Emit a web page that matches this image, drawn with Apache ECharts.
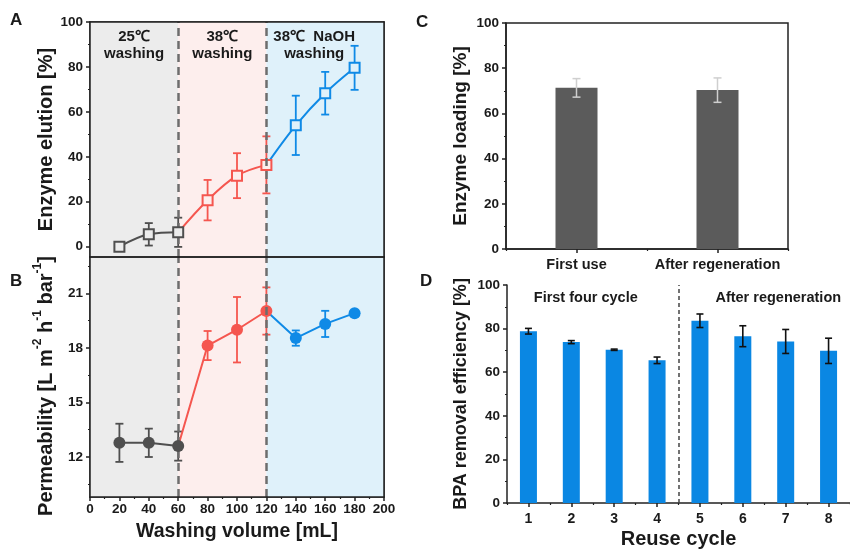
<!DOCTYPE html>
<html><head><meta charset="utf-8">
<script src="https://cdn.jsdelivr.net/npm/echarts/dist/echarts.min.js"></script>
<style>html,body{margin:0;padding:0;background:#fff}#c{width:850px;height:550px}</style>
</head><body><div id="c"></div>
<script>
// ---------- data ----------
const washVolume   = [20, 40, 60, 80, 100, 120, 140, 160, 180];
const elution      = [0, 5.5, 6.4, 20.7, 31.6, 36.4, 54, 68.3, 79.6];
const elutionErr   = [0, 5, 6.5, 9, 10, 12.7, 13.2, 9.5, 9.8];
const permeability = [12.78, 12.78, 12.6, 18.13, 19.0, 20.03, 18.54, 19.32, 19.91];
const permErr      = [1.05, 0.78, 0.8, 0.8, 1.8, 1.3, 0.42, 0.72, 0];
const phaseBounds  = [0, 60, 120, 200];
const phasePoints  = [[0, 3], [3, 6], [6, 9]];   // index ranges owned by each phase
const phaseLabels  = ['25℃\nwashing', '38℃\nwashing', '38℃  NaOH\nwashing'];
const washTicks    = [0, 20, 40, 60, 80, 100, 120, 140, 160, 180, 200];
const elutionTicks = [0, 20, 40, 60, 80, 100];
const elutionMinor = [10, 30, 50, 70, 90];
const permTicks    = [12, 15, 18, 21];
const permMinor    = [10.5, 13.5, 16.5, 19.5, 22.5];

const loadCats     = ['First use', 'After regeneration'];
const loading      = [71.3, 70.3];
const loadingErr   = [4.1, 5.4];

const cycles       = ['1', '2', '3', '4', '5', '6', '7', '8'];
const bpa          = [78.8, 73.8, 70.3, 65.45, 83.6, 76.5, 74.1, 69.8];
const bpaErr       = [1.3, 0.7, 0.3, 1.5, 3.1, 4.8, 5.5, 5.8];
const cycleGroups  = ['First four cycle', 'After regeneration'];
const cycleGroupN  = [4, 4];

// ---------- styles ----------
const FONT = "'Liberation Sans', Arial, Helvetica, sans-serif";
const INK = '#1a1a1a';
const phaseColors = ['#4f4f4f', '#f5564f', '#0f8ae6'];
const phaseBg = ['#ececec', '#fdeeed', '#dff1fa'];
const lbl = (size, extra) => Object.assign({color: INK, fontFamily: FONT, fontWeight: 'bold', fontSize: size}, extra || {});

function errRender(color, cap, width, gapR) {
  return function (params, api) {
    const x = api.value(0), y = api.value(1), e = api.value(2);
    if (!e) return null;
    const c = api.coord([x, y]);
    const t = api.coord([x, y + e]);
    const b = api.coord([x, y - e]);
    const st = {stroke: color, lineWidth: width};
    const ch = [
      {type: 'line', shape: {x1: t[0] - cap / 2, y1: t[1], x2: t[0] + cap / 2, y2: t[1]}, style: st},
      {type: 'line', shape: {x1: b[0] - cap / 2, y1: b[1], x2: b[0] + cap / 2, y2: b[1]}, style: st}
    ];
    if (gapR) {
      if (t[1] < c[1] - gapR) ch.push({type: 'line', shape: {x1: t[0], y1: t[1], x2: t[0], y2: c[1] - gapR}, style: st});
      if (b[1] > c[1] + gapR) ch.push({type: 'line', shape: {x1: b[0], y1: c[1] + gapR, x2: b[0], y2: b[1]}, style: st});
    } else {
      ch.push({type: 'line', shape: {x1: t[0], y1: t[1], x2: b[0], y2: b[1]}, style: st});
    }
    return {type: 'group', children: ch};
  };
}

const series = [];

// background phases + dashed separators (panel A and B)
function phaseAreas(withLabels) {
  return phaseLabels.map((t, i) => [
    {xAxis: phaseBounds[i], itemStyle: {color: phaseBg[i]},
     label: withLabels ? lbl(15, {show: true, formatter: t, position: 'insideTop', distance: 6, lineHeight: 17,
       padding: i === 2 ? [0, 22, 0, 0] : 0}) : {show: false}},
    {xAxis: phaseBounds[i + 1]}
  ]);
}
const sepLines = phaseBounds.slice(1, -1).map(v => ({xAxis: v}));
const sepStyle = {symbol: 'none', silent: true, label: {show: false},
  lineStyle: {color: '#6d6d6d', width: 2.5, type: [8, 5]}, data: sepLines};

phasePoints.forEach((rng, p) => {
  const start = p === 0 ? rng[0] : rng[0] - 1;
  const idx = [];
  for (let i = start; i < rng[1]; i++) idx.push(i);
  const own = i => i >= rng[0];
  // panel A line
  series.push({
    type: 'line', xAxisIndex: 0, yAxisIndex: 0, smooth: 0.35, z: 5 - p,
    symbol: 'rect', symbolSize: 10,
    lineStyle: {color: phaseColors[p], width: 2},
    itemStyle: {color: phaseBg[p], borderColor: phaseColors[p], borderWidth: 2},
    data: idx.map(i => own(i) ? [washVolume[i], elution[i]] : {value: [washVolume[i], elution[i]], symbol: 'none'}),
    markArea: p === 0 ? {silent: true, data: phaseAreas(true)} : undefined,
    markLine: p === 0 ? sepStyle : undefined
  });
  series.push({
    type: 'custom', xAxisIndex: 0, yAxisIndex: 0, z: 3,
    renderItem: errRender(phaseColors[p], 8, 1.8, 5),
    data: idx.filter(own).map(i => [washVolume[i], elution[i], elutionErr[i]])
  });
  // panel B line
  series.push({
    type: 'line', xAxisIndex: 1, yAxisIndex: 2, z: 5 - p,
    symbol: 'circle', symbolSize: 12,
    lineStyle: {color: phaseColors[p], width: 2},
    itemStyle: {color: phaseColors[p]},
    data: idx.map(i => own(i) ? [washVolume[i], permeability[i]] : {value: [washVolume[i], permeability[i]], symbol: 'none'}),
    markArea: p === 0 ? {silent: true, data: phaseAreas(false)} : undefined,
    markLine: p === 0 ? sepStyle : undefined
  });
  series.push({
    type: 'custom', xAxisIndex: 1, yAxisIndex: 2, z: 3,
    renderItem: errRender(phaseColors[p], 8, 1.8, 0),
    data: idx.filter(own).map(i => [washVolume[i], permeability[i], permErr[i]])
  });
});

// panel C
series.push({type: 'bar', xAxisIndex: 2, yAxisIndex: 4, barWidth: 42, itemStyle: {color: '#5b5b5b'}, data: loading});
series.push({type: 'custom', xAxisIndex: 2, yAxisIndex: 4, z: 5,
  renderItem: errRender('#cfcfcf', 8, 1.5, 0),
  data: loading.map((v, i) => [i, v, loadingErr[i]])});

// panel D
series.push({type: 'bar', xAxisIndex: 4, yAxisIndex: 5, barWidth: 17, itemStyle: {color: '#0a87e3'}, data: bpa});
series.push({type: 'custom', xAxisIndex: 4, yAxisIndex: 5, z: 5,
  renderItem: errRender('#111', 7, 1.6, 0),
  data: bpa.map((v, i) => [i, v, bpaErr[i]])});
let acc = 0.5;
const groupAreas = cycleGroups.map((g, i) => {
  const a = acc; acc += cycleGroupN[i];
  return [{xAxis: a, itemStyle: {color: 'rgba(0,0,0,0)'},
    label: lbl(14.5, {show: true, formatter: g, position: 'insideTop', distance: 5, offset: [i === 0 ? -7 : 14, 0]})},
    {xAxis: acc}];
});
series.push({type: 'line', xAxisIndex: 5, yAxisIndex: 5, data: [],
  markArea: {silent: true, data: groupAreas},
  markLine: {symbol: 'none', silent: true, label: {show: false},
    lineStyle: {color: '#444', width: 1.5, type: [4, 3]},
    data: [{xAxis: 0.5 + cycleGroupN[0]}]}});

const axLine = {show: true, onZero: false, lineStyle: {color: '#222', width: 1.5}};
const tickMaj = (extra) => Object.assign({show: true, inside: false, length: 4, lineStyle: {color: '#222', width: 1.5}}, extra || {});
const frameAxis = (type, grid, pos, min, max) => ({type: type, gridIndex: grid, position: pos, min: min, max: max, z: 10,
  axisLine: axLine, axisTick: {show: false}, axisLabel: {show: false}, splitLine: {show: false}});

const option = {
  animation: false,
  backgroundColor: '#fff',
  grid: [
    {left: 90, top: 22, width: 294, height: 235, show: true, borderColor: '#222', borderWidth: 1.5, backgroundColor: 'transparent'},
    {left: 90, top: 257, width: 294, height: 240, show: true, borderColor: '#222', borderWidth: 1.5, backgroundColor: 'transparent'},
    {left: 506, top: 23, width: 282, height: 226, show: true, borderColor: '#222', borderWidth: 1.5, backgroundColor: 'transparent'},
    {left: 507, top: 285, width: 348, height: 220}
  ],
  xAxis: [
    frameAxis('value', 0, 'bottom', phaseBounds[0], phaseBounds[3]),
    {type: 'value', gridIndex: 1, min: phaseBounds[0], max: phaseBounds[3], z: 10,
      axisLine: axLine, splitLine: {show: false},
      axisTick: tickMaj({customValues: washTicks}),
      axisLabel: lbl(13.5, {margin: 5, customValues: washTicks}),
      minorTick: {show: true, splitNumber: 2, length: 2, lineStyle: {color: '#222', width: 1.2}},
      interval: 20,
      name: 'Washing volume [mL]', nameLocation: 'middle', nameGap: 25,
      nameTextStyle: lbl(19.5)},
    {type: 'category', gridIndex: 2, data: loadCats, position: 'bottom',
      axisLine: axLine, axisTick: tickMaj({alignWithLabel: true}),
      axisLabel: lbl(14.5, {margin: 8, interval: 0})},
    {type: 'category', gridIndex: 2, data: loadCats, position: 'bottom',
      axisLine: {show: false}, axisLabel: {show: false},
      axisTick: {show: true, alignWithLabel: false, length: 2, lineStyle: {color: '#222', width: 1.2}}},
    {type: 'category', gridIndex: 3, data: cycles, position: 'bottom',
      axisLine: axLine, axisTick: tickMaj({alignWithLabel: true}),
      axisLabel: lbl(14, {margin: 9, interval: 0}),
      name: 'Reuse cycle', nameLocation: 'middle', nameGap: 26, nameTextStyle: lbl(20)},
    {type: 'value', gridIndex: 3, position: 'bottom', min: 0.5, max: cycles.length + 0.5, interval: 1,
      axisLine: {show: false}, axisLabel: {show: false}, splitLine: {show: false},
      axisTick: {show: true, length: 2, lineStyle: {color: '#222', width: 1.2}}},
    frameAxis('value', 0, 'top', phaseBounds[0], phaseBounds[3]),
    frameAxis('value', 1, 'top', phaseBounds[0], phaseBounds[3])
  ],
  yAxis: [
    {type: 'value', gridIndex: 0, min: -4.6, max: 100, z: 10,
      axisLine: axLine, splitLine: {show: false},
      axisTick: tickMaj({customValues: elutionTicks}),
      axisLabel: lbl(13.5, {margin: 7, customValues: elutionTicks}),
      name: 'Enzyme elution [%]', nameLocation: 'middle', nameGap: 33, nameTextStyle: lbl(20)},
    {type: 'value', gridIndex: 0, min: -4.6, max: 100, position: 'left', z: 10,
      axisLine: {show: false}, splitLine: {show: false},
      axisLabel: {show: false, customValues: elutionMinor},
      axisTick: {show: true, length: 2, customValues: elutionMinor, lineStyle: {color: '#222', width: 1.2}}},
    {type: 'value', gridIndex: 1, min: 9.8, max: 23, z: 10,
      axisLine: axLine, splitLine: {show: false},
      axisTick: tickMaj({customValues: permTicks}),
      axisLabel: lbl(13.5, {margin: 7, customValues: permTicks}),
      name: '{a|Permeability [L m}{s|-2}{a| h}{s|-1}{a| bar}{s|-1}{a|]}',
      nameLocation: 'middle', nameGap: 34,
      nameTextStyle: {padding: [0, 18, 0, 0], rich: {
        a: lbl(20, {lineHeight: 24, verticalAlign: 'bottom'}),
        s: lbl(12, {lineHeight: 24, verticalAlign: 'top'})
      }}},
    {type: 'value', gridIndex: 1, min: 9.8, max: 23, position: 'left', z: 10,
      axisLine: {show: false}, splitLine: {show: false},
      axisLabel: {show: false, customValues: permMinor},
      axisTick: {show: true, length: 2, customValues: permMinor, lineStyle: {color: '#222', width: 1.2}}},
    {type: 'value', gridIndex: 2, min: 0, max: 100, interval: 20,
      axisLine: axLine, splitLine: {show: false}, axisTick: tickMaj(),
      minorTick: {show: true, splitNumber: 2, length: 2, lineStyle: {color: '#222', width: 1.2}},
      axisLabel: lbl(13.5, {margin: 7}),
      name: 'Enzyme loading [%]', nameLocation: 'middle', nameGap: 36, nameTextStyle: lbl(19)},
    {type: 'value', gridIndex: 3, min: 0, max: 100, interval: 20,
      axisLine: axLine, splitLine: {show: false}, axisTick: tickMaj(),
      minorTick: {show: true, splitNumber: 2, length: 2, lineStyle: {color: '#222', width: 1.2}},
      axisLabel: lbl(13.5, {margin: 7}),
      name: 'BPA removal efficiency [%]', nameLocation: 'middle', nameGap: 37, nameTextStyle: lbl(18)},
    frameAxis('value', 0, 'right', -4.6, 100),
    frameAxis('value', 1, 'right', 9.8, 23)
  ],
  graphic: [
    {type: 'text', left: 10, top: 12, style: {text: 'A', font: 'bold 17px ' + FONT, fill: INK}},
    {type: 'text', left: 10, top: 273, style: {text: 'B', font: 'bold 17px ' + FONT, fill: INK}},
    {type: 'text', left: 416, top: 14, style: {text: 'C', font: 'bold 17px ' + FONT, fill: INK}},
    {type: 'text', left: 420, top: 273, style: {text: 'D', font: 'bold 17px ' + FONT, fill: INK}}
  ],
  series: series
};
const chart = echarts.init(document.getElementById('c'), null, {renderer: 'canvas'});
chart.setOption(option);
</script></body></html>
